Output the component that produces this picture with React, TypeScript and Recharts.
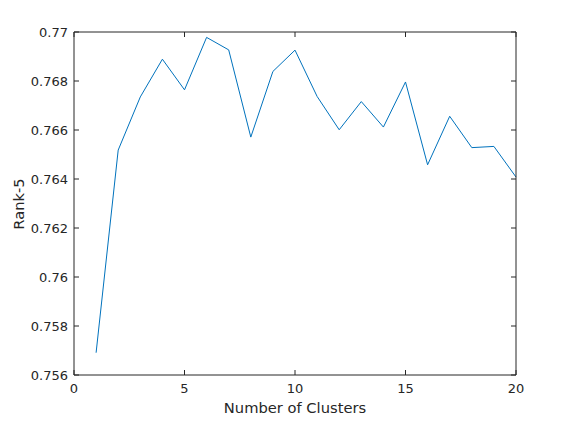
import React from 'react';
import { LineChart, Line, XAxis, YAxis } from 'recharts';

const clusters = [1, 2, 3, 4, 5, 6, 7, 8, 9, 10, 11, 12, 13, 14, 15, 16, 17, 18, 19, 20];
const rank5 = [
  0.75691, 0.76518, 0.76735, 0.76889, 0.76764, 0.76978, 0.76927, 0.76571, 0.76839, 0.76926,
  0.76737, 0.76601, 0.76716, 0.76612, 0.76796, 0.76458, 0.76656, 0.76528, 0.76533, 0.76408,
];
const xTicks = [0, 5, 10, 15, 20];
const yTicks = [0.756, 0.758, 0.76, 0.762, 0.764, 0.766, 0.768, 0.77];

const data = clusters.map((c, i) => ({ c, v: rank5[i] }));

const FONT = "'DejaVu Sans', sans-serif";
const AX = '#262626';
const TL = 5;

const BottomTick = (p: any) => (
  <g>
    <line x1={p.x} x2={p.x} y1={p.y - 9} y2={p.y - 9 - TL} stroke={AX} strokeWidth={1} />
    <text x={p.x} y={p.y} dy="0.71em" textAnchor="middle" fontSize={13} fill={AX} fontFamily={FONT}>
      {String(p.payload.value)}
    </text>
  </g>
);

const LeftTick = (p: any) => (
  <g>
    <line x1={p.x + 6} x2={p.x + 6 + TL} y1={p.y} y2={p.y} stroke={AX} strokeWidth={1} />
    <text x={p.x} y={p.y} dy="0.355em" textAnchor="end" fontSize={13} fill={AX} fontFamily={FONT}>
      {String(p.payload.value)}
    </text>
  </g>
);

const TopTick = (p: any) => (
  <line x1={p.x} x2={p.x} y1={p.y} y2={p.y + TL} stroke={AX} strokeWidth={1} />
);

const RightTick = (p: any) => (
  <line x1={p.x} x2={p.x - TL} y1={p.y} y2={p.y} stroke={AX} strokeWidth={1} />
);

const YLabel = () => (
  <text
    x={24}
    y={204}
    transform="rotate(-90 24 204)"
    textAnchor="middle"
    fontSize={14.7}
    fill={AX}
    fontFamily={FONT}
  >
    Rank-5
  </text>
);

const XLabel = () => (
  <text x={295} y={413} textAnchor="middle" fontSize={14.7} fill={AX} fontFamily={FONT}>
    Number of Clusters
  </text>
);

export default function App() {
  return (
    <div style={{ position: 'absolute', left: 0, top: 0, width: 570, height: 422, background: '#fff' }}>
      <LineChart width={570} height={422} data={data} margin={{ top: 31, right: 53, bottom: 0, left: 0 }}>
        <XAxis
          xAxisId="b"
          dataKey="c"
          type="number"
          domain={[0, 20]}
          ticks={xTicks}
          height={47}
          tickSize={0}
          tickMargin={9}
          tick={<BottomTick />}
          axisLine={{ stroke: AX }}
          tickLine={false}
          label={<XLabel />}
        />
        <XAxis
          xAxisId="t"
          orientation="top"
          dataKey="c"
          type="number"
          domain={[0, 20]}
          ticks={xTicks}
          height={1}
          tickSize={0}
          tickMargin={0}
          tick={<TopTick />}
          axisLine={{ stroke: AX }}
          tickLine={false}
        />
        <YAxis
          yAxisId="l"
          type="number"
          domain={[0.756, 0.77]}
          ticks={yTicks}
          width={74}
          tickSize={0}
          tickMargin={6}
          tick={<LeftTick />}
          axisLine={{ stroke: AX }}
          tickLine={false}
          label={<YLabel />}
        />
        <YAxis
          yAxisId="r"
          orientation="right"
          type="number"
          domain={[0.756, 0.77]}
          ticks={yTicks}
          width={1}
          tickSize={0}
          tickMargin={0}
          tick={<RightTick />}
          axisLine={{ stroke: AX }}
          tickLine={false}
        />
        <Line
          xAxisId="b"
          yAxisId="l"
          dataKey="v"
          stroke="#0072BD"
          strokeWidth={1}
          dot={false}
          isAnimationActive={false}
        />
        <Line
          xAxisId="t"
          yAxisId="r"
          dataKey="v"
          stroke="none"
          dot={false}
          legendType="none"
          isAnimationActive={false}
        />
      </LineChart>
    </div>
  );
}
